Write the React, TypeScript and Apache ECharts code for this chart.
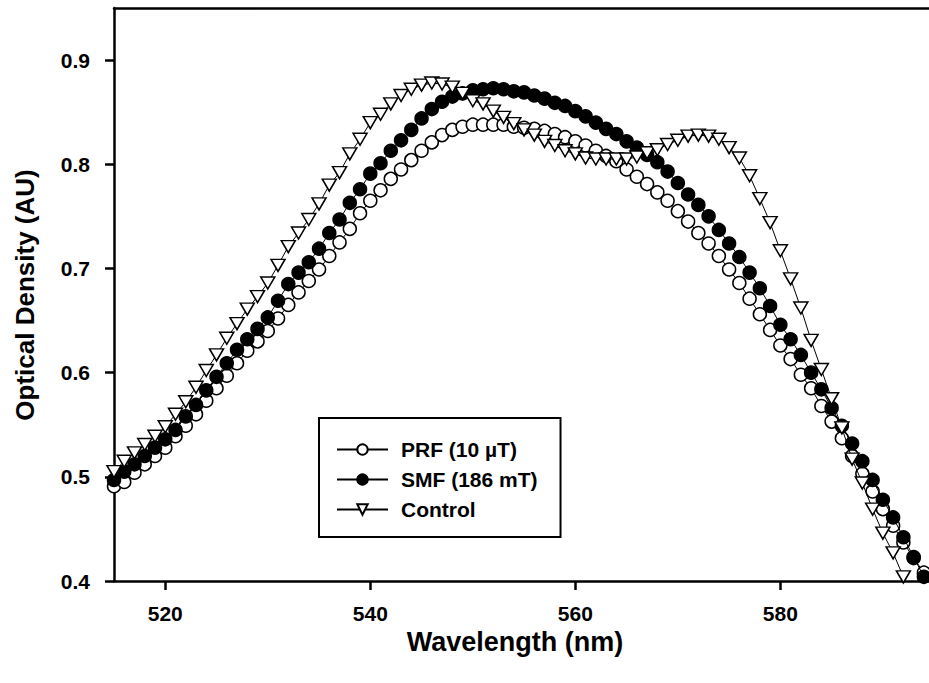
import React, { useEffect, useRef } from "react";
import * as echarts from "echarts";

const wavelengths = [
  515, 516, 517, 518, 519, 520, 521, 522, 523, 524, 525, 526, 527, 528, 529, 530,
  531, 532, 533, 534, 535, 536, 537, 538, 539, 540, 541, 542, 543, 544, 545, 546,
  547, 548, 549, 550, 551, 552, 553, 554, 555, 556, 557, 558, 559, 560, 561, 562,
  563, 564, 565, 566, 567, 568, 569, 570, 571, 572, 573, 574, 575, 576, 577, 578,
  579, 580, 581, 582, 583, 584, 585, 586, 587, 588, 589, 590, 591, 592, 593, 594,
];

const prf = [
  0.491, 0.495, 0.504, 0.512, 0.52, 0.528, 0.539, 0.549, 0.56, 0.573, 0.585, 0.597, 0.609, 0.621, 0.63, 0.64,
  0.652, 0.665, 0.677, 0.688, 0.699, 0.712, 0.725, 0.738, 0.753, 0.765, 0.775, 0.786, 0.795, 0.804, 0.813, 0.821,
  0.828, 0.833, 0.836, 0.838, 0.838, 0.838, 0.838, 0.836, 0.835, 0.834, 0.832, 0.829, 0.826, 0.822, 0.818, 0.813,
  0.808, 0.803, 0.795, 0.788, 0.781, 0.773, 0.765, 0.755, 0.745, 0.734, 0.724, 0.712, 0.699, 0.686, 0.671, 0.656,
  0.641, 0.626, 0.613, 0.598, 0.585, 0.568, 0.553, 0.537, 0.52, 0.503, 0.486, 0.469, 0.453, 0.437, 0.422, 0.408,
];

const smf = [
  0.497, 0.505, 0.512, 0.52, 0.528, 0.536, 0.545, 0.558, 0.569, 0.583, 0.596, 0.609, 0.622, 0.632, 0.642, 0.653,
  0.669, 0.685, 0.696, 0.706, 0.719, 0.734, 0.747, 0.763, 0.776, 0.791, 0.801, 0.813, 0.823, 0.833, 0.844, 0.853,
  0.86, 0.865, 0.868, 0.871, 0.872, 0.873, 0.872, 0.87, 0.869, 0.866, 0.863, 0.859, 0.856, 0.851, 0.846, 0.84,
  0.834, 0.829, 0.822, 0.816, 0.809, 0.802, 0.793, 0.782, 0.771, 0.761, 0.75, 0.737, 0.724, 0.711, 0.696, 0.681,
  0.664, 0.646, 0.632, 0.617, 0.6, 0.584, 0.566, 0.549, 0.532, 0.515, 0.497, 0.478, 0.461, 0.442, 0.423, 0.404,
];

const control = [
  0.505, 0.515, 0.523, 0.531, 0.539, 0.548, 0.56, 0.572, 0.586, 0.602, 0.617, 0.633, 0.647, 0.661, 0.673, 0.686,
  0.703, 0.721, 0.734, 0.747, 0.762, 0.78, 0.792, 0.81, 0.824, 0.84, 0.848, 0.858, 0.866, 0.872, 0.876, 0.878,
  0.877, 0.874, 0.868, 0.861, 0.858, 0.851, 0.845, 0.839, 0.833, 0.828, 0.822, 0.818, 0.813, 0.81, 0.806, 0.805,
  0.805, 0.805, 0.805, 0.807, 0.811, 0.814, 0.819, 0.823, 0.827, 0.828, 0.827, 0.824, 0.816, 0.806, 0.789, 0.767,
  0.744, 0.717, 0.69, 0.662, 0.631, 0.603, 0.575, 0.547, 0.517, 0.494, 0.469, 0.446, 0.427, 0.404,
];

const xTicks = [520, 540, 560, 580];
const yTicks = [0.4, 0.5, 0.6, 0.7, 0.8, 0.9];
const seriesNames = ["PRF (10 µT)", "SMF (186 mT)", "Control"];
const xTitle = "Wavelength (nm)";
const yTitle = "Optical Density (AU)";

const FONT = '"Liberation Sans", Arial, Helvetica, sans-serif';

function pairs(values: number[]) {
  return values.map((v, i) => [wavelengths[i], v]);
}

export default function App() {
  const ref = useRef<HTMLDivElement>(null);

  useEffect(() => {
    if (!ref.current) return;
    const chart = echarts.init(ref.current, null, { renderer: "svg" });

    const axisLine = { show: true, lineStyle: { color: "#000", width: 2.5 } };
    const tickStyle = { color: "#000", width: 2.5 };
    const labelStyle = {
      color: "#000",
      fontSize: 21,
      fontWeight: "bold" as const,
      fontFamily: FONT,
    };

    const baseSeries = {
      type: "line" as const,
      showSymbol: true,
      showAllSymbol: true,
      symbolSize: 13,
      lineStyle: { color: "#000", width: 1 },
      emphasis: { disabled: true },
    };

    chart.setOption({
      animation: false,
      textStyle: { fontFamily: FONT },
      grid: { left: 114, top: 8, right: 0, bottom: 102, containLabel: false },
      xAxis: [
        {
          type: "value",
          min: 515,
          max: 594.5,
          axisLine,
          axisTick: { show: true, inside: false, length: 9, lineStyle: tickStyle, customValues: xTicks },
          axisLabel: {
            ...labelStyle,
            margin: 23,
            lineHeight: 19,
            customValues: xTicks,
            formatter: (v: number) => String(v),
          },
          splitLine: { show: false },
        },
        {
          type: "value",
          position: "top",
          min: 515,
          max: 594.5,
          axisLine,
          axisTick: { show: false },
          axisLabel: { show: false },
          splitLine: { show: false },
        },
      ],
      yAxis: {
        type: "value",
        min: 0.4,
        max: 0.95,
        axisLine,
        axisTick: { show: true, inside: false, length: 9, lineStyle: tickStyle, customValues: yTicks },
        axisLabel: { ...labelStyle, margin: 24, customValues: yTicks, formatter: (v: number) => v.toFixed(1) },
        splitLine: { show: false },
      },
      legend: {
        orient: "vertical",
        left: 319,
        top: 418,
        padding: [21, 23, 17, 17],
        itemGap: 9,
        itemWidth: 51,
        itemHeight: 13,
        borderColor: "#000",
        borderWidth: 2,
        backgroundColor: "#fff",
        selectedMode: false,
        data: seriesNames,
        textStyle: {
          color: "#000",
          fontSize: 21,
          fontWeight: "bold",
          fontFamily: FONT,
          lineHeight: 21,
          padding: [0, 0, 0, 8],
        },
      },
      graphic: [
        {
          type: "text",
          x: 25,
          y: 295,
          rotation: Math.PI / 2,
          style: {
            text: yTitle,
            fill: "#000",
            fontSize: 26,
            fontWeight: "bold",
            fontFamily: FONT,
            textAlign: "center",
            textVerticalAlign: "middle",
          },
        },
        {
          type: "text",
          x: 515,
          y: 642,
          style: {
            text: xTitle,
            fill: "#000",
            fontSize: 27,
            fontWeight: "bold",
            fontFamily: FONT,
            textAlign: "center",
            textVerticalAlign: "middle",
          },
        },
      ],
      series: [
        {
          ...baseSeries,
          name: seriesNames[0],
          symbol: "circle",
          itemStyle: { color: "#fff", borderColor: "#000", borderWidth: 1.5 },
          data: pairs(prf),
          z: 2,
        },
        {
          ...baseSeries,
          name: seriesNames[1],
          symbol: "circle",
          itemStyle: { color: "#000", borderColor: "#000", borderWidth: 1.5 },
          data: pairs(smf),
          z: 3,
        },
        {
          ...baseSeries,
          name: seriesNames[2],
          symbol: "triangle",
          symbolRotate: 180,
          symbolSize: [14, 12],
          itemStyle: { color: "#fff", borderColor: "#000", borderWidth: 1.5 },
          data: pairs(control),
          z: 4,
        },
      ],
    });

    return () => {
      chart.dispose();
    };
  }, []);

  return (
    <div
      ref={ref}
      style={{ position: "absolute", left: 0, top: 0, width: 929, height: 683, background: "#fff" }}
    />
  );
}
